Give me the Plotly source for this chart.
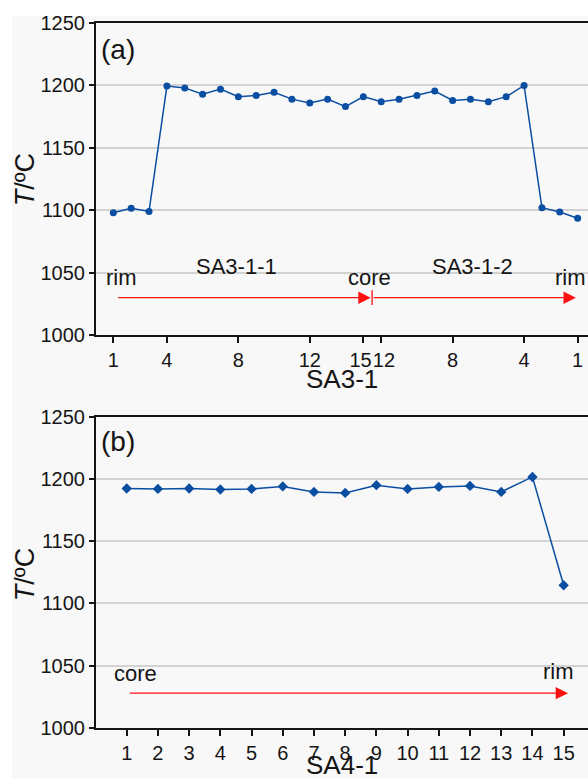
import plotly.graph_objects as go

# ---- data -------------------------------------------------------------
# SA3-1 profile: SA3-1-1 runs rim -> core, SA3-1-2 runs core -> rim
sa311_spots = [1, 2, 3, 4, 5, 6, 7, 8, 9, 10, 11, 12, 13, 14, 15]
sa311_T = [1098, 1101.5, 1099, 1199.5, 1198, 1193, 1197, 1191, 1192, 1194.5,
           1189, 1186, 1189, 1183, 1191]
sa312_spots = [12, 11, 10, 9, 8, 7, 6, 5, 4, 3, 2, 1]
sa312_T = [1187, 1189, 1192, 1195.5, 1188, 1189, 1187, 1191, 1200,
           1102, 1098.5, 1093.5]

# SA4-1 profile: core -> rim
sa41_spots = [1, 2, 3, 4, 5, 6, 7, 8, 9, 10, 11, 12, 13, 14, 15]
sa41_T = [1192.3, 1192, 1192.3, 1191.5, 1192, 1194, 1189.6, 1188.8, 1195,
          1192, 1193.6, 1194.4, 1189.6, 1201.6, 1114.6]

sa3_tick_spots_1 = [1, 4, 8, 12, 15]
sa3_tick_spots_2 = [12, 8, 4, 1]
y_ticks = [1000, 1050, 1100, 1150, 1200, 1250]

# ---- positions along the traverse ------------------------------------
sa3_labels = sa311_spots + sa312_spots
sa3_T = sa311_T + sa312_T
sa3_pos = list(range(1, len(sa3_labels) + 1))
n1 = len(sa311_spots)
sa3_tickvals = [sa311_spots.index(s) + 1 for s in sa3_tick_spots_1] + \
               [n1 + sa312_spots.index(s) + 1 for s in sa3_tick_spots_2]
sa3_ticktext = [str(s) for s in sa3_tick_spots_1] + [str(s) for s in sa3_tick_spots_2]
# keep the two labels at the segment join from running into each other
sa3_ticktext[len(sa3_tick_spots_1) - 1] += " "
sa3_ticktext[len(sa3_tick_spots_1)] = " " + sa3_ticktext[len(sa3_tick_spots_1)]

sa4_pos = list(range(1, len(sa41_spots) + 1))

BLUE = "#0a4ea2"
RED = "#ff1010"
INK = "#151515"
FONT = "Liberation Sans, Arial, sans-serif"

fig = go.Figure()
fig.add_trace(go.Scatter(
    x=sa3_pos, y=sa3_T, mode="lines+markers",
    line=dict(color=BLUE, width=1.5),
    marker=dict(symbol="circle", size=7, color=BLUE),
    xaxis="x", yaxis="y", showlegend=False))
fig.add_trace(go.Scatter(
    x=sa4_pos, y=sa41_T, mode="lines+markers",
    line=dict(color=BLUE, width=1.5),
    marker=dict(symbol="diamond", size=8, color=BLUE),
    xaxis="x2", yaxis="y2", showlegend=False))

axis_common = dict(showline=True, linecolor=INK, linewidth=2,
                   ticks="outside", tickcolor=INK, tickwidth=1.5,
                   tickfont=dict(family=FONT, size=20, color=INK),
                   zeroline=False)

fig.update_layout(
    width=588, height=778,
    margin=dict(l=96, r=0, t=23, b=50),
    paper_bgcolor="#f8f8f8", plot_bgcolor="#f8f8f8",
    font=dict(family=FONT, color=INK),
    xaxis=dict(axis_common, domain=[0, 1], anchor="y", range=[0.03, 27.58],
               tickmode="array", tickvals=sa3_tickvals, ticktext=sa3_ticktext,
               tickangle=0, ticklen=6, showgrid=False, mirror=True),
    yaxis=dict(axis_common, domain=[0.5574, 1], anchor="x", range=[1000, 1250],
               tickmode="array", tickvals=y_ticks, ticklen=5,
               showgrid=True, gridcolor="#d2d2d2", gridwidth=1.5),
    xaxis2=dict(axis_common, domain=[0, 1], anchor="y2", range=[0.016, 15.78],
                tickmode="array", tickvals=sa4_pos,
                ticktext=[str(s) for s in sa41_spots],
                tickangle=0, ticklen=6, showgrid=False, mirror=True),
    yaxis2=dict(axis_common, domain=[0, 0.4416], anchor="x2", range=[1000, 1250],
                tickmode="array", tickvals=y_ticks, ticklen=5,
                showgrid=True, gridcolor="#d2d2d2", gridwidth=1.5),
)

# white border strips around the figure
fig.add_shape(type="rect", xref="paper", yref="paper", layer="below",
              x0=-0.2, x1=1.0, y0=1.0099, y1=1.04, line_width=0, fillcolor="white")
fig.add_shape(type="rect", xref="paper", yref="paper", layer="below",
              x0=-0.2, x1=-0.1707, y0=-0.08, y1=1.04, line_width=0, fillcolor="white")

ann = []
txt = dict(family=FONT, size=22, color=INK)

# panel tags
ann.append(dict(text="(a)", xref="paper", yref="paper", x=0.007, y=0.962,
                xanchor="left", yanchor="middle", showarrow=False,
                font=dict(family=FONT, size=28, color=INK)))
ann.append(dict(text="(b)", xref="paper", yref="paper", x=0.007, y=0.407,
                xanchor="left", yanchor="middle", showarrow=False,
                font=dict(family=FONT, size=28, color=INK)))

# axis titles
for ytxt in (0.777, 0.217):
    ann.append(dict(text="<i>T</i>/ºC", xref="paper", yref="paper", x=-0.144, y=ytxt,
                    xanchor="center", yanchor="middle", textangle=-90,
                    showarrow=False, font=dict(family=FONT, size=27, color=INK)))
ann.append(dict(text="SA3-1", xref="paper", yref="paper", x=0.501, y=0.495,
                xanchor="center", yanchor="middle", showarrow=False,
                font=dict(family=FONT, size=26, color=INK)))
ann.append(dict(text="SA4-1", xref="paper", yref="paper", x=0.501, y=-0.0525,
                xanchor="center", yanchor="middle", showarrow=False,
                font=dict(family=FONT, size=26, color=INK)))

# traverse labels, panel (a)
for t, xv, yv in [("rim", 1.46, 1046), ("SA3-1-1", 7.87, 1055), ("core", 15.32, 1046),
                  ("SA3-1-2", 21.11, 1055), ("rim", 26.6, 1046)]:
    ann.append(dict(text=t, xref="x", yref="y", x=xv, y=yv, xanchor="center",
                    yanchor="middle", showarrow=False, font=txt))
# traverse labels, panel (b)
for t, xv, yv in [("core", 1.27, 1044), ("rim", 14.85, 1045)]:
    ann.append(dict(text=t, xref="x2", yref="y2", x=xv, y=yv, xanchor="center",
                    yanchor="middle", showarrow=False, font=txt))

# direction arrows
arrow = dict(text="", showarrow=True, arrowhead=2, arrowsize=1.9, arrowwidth=1.3,
             arrowcolor=RED, standoff=0, startstandoff=0)
ann.append(dict(arrow, xref="x", yref="y", axref="x", ayref="y",
                x=15.41, y=1029.9, ax=1.19, ay=1029.9))
ann.append(dict(arrow, xref="x", yref="y", axref="x", ayref="y",
                x=26.9, y=1029.9, ax=15.49, ay=1029.9))
ann.append(dict(arrow, xref="x2", yref="y2", axref="x2", ayref="y2",
                x=15.14, y=1028, ax=1.05, ay=1028))
fig.add_shape(type="line", xref="x", yref="y", x0=15.49, x1=15.49, y0=1024, y1=1036,
              line=dict(color=RED, width=1.3))

fig.update_layout(annotations=ann)
fig.write_html("out.html")
